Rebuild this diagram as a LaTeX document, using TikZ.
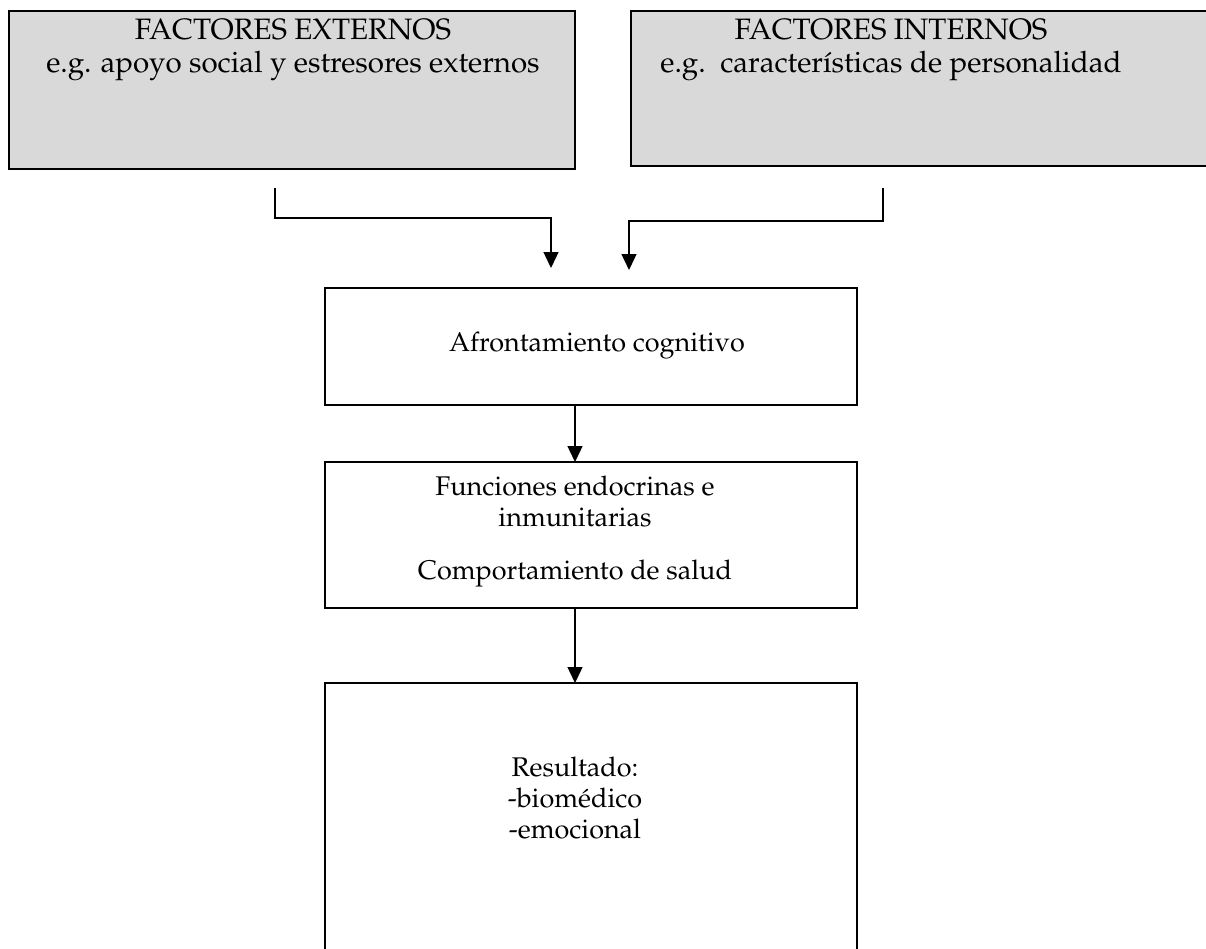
\documentclass[tikz,border=0pt]{standalone}
\usepackage[T1]{fontenc}
\usepackage{mathpazo}
\usetikzlibrary{arrows.meta,positioning}
\definecolor{factorgray}{HTML}{D9D9D9}
\tikzstyle{box}=[draw=black, line width=1.7pt, inner sep=0pt, outer sep=0pt]
\tikzstyle{factor}=[box, fill=factorgray]
\tikzstyle{boxtext}=[align=center, inner sep=0pt, font=\fontsize{27}{31}\selectfont]
\tikzstyle{factortext}=[boxtext, font=\fontsize{29.5}{33}\selectfont]
\tikzstyle{link}=[line width=1.3pt, -{Triangle[width=15pt,length=16pt]}]

\begin{document}
\begin{tikzpicture}[x=1pt, y=-1pt]
	\useasboundingbox (0,0) rectangle (1206,948);

	% Factor boxes
	\node[factor, minimum width=566pt, minimum height=158pt] (ext) at (292,90) {};
	\node[factor, minimum width=590pt, minimum height=155pt] (int) at (926,88.5) {};
	\node[factortext, anchor=north] (exttext) at (293,19) {FACTORES EXTERNOS\\e.g. apoyo social y estresores externos};
	\node[factortext, anchor=north] (inttext) at (891,19) {FACTORES INTERNOS\\e.g.\ \ caracter\'{\i}sticas de personalidad};

	% Chain of boxes
	\node[box, minimum width=532pt, minimum height=117pt] (afront) at (591,346.5) {};
	\node[box, minimum width=532pt, minimum height=146pt] (endo) at (591,535) {};
	\node[box, minimum width=532pt, minimum height=277pt] (result) at (591,821.5) {};
	\node[boxtext] (afronttext) at (597,346) {Afrontamiento cognitivo};
	\node[boxtext, anchor=north] (endotext) at (575,476) {Funciones endocrinas e\\inmunitarias\\[22pt]Comportamiento de salud};
	\node[boxtext, anchor=north] (resulttext) at (575,757) {Resultado:\\-biom\'edico\\-emocional};

	% Connectors
	\coordinate (axis) at (575,0);
	\coordinate (extstart) at (275,188);
	\coordinate (extend) at (551,268);
	\coordinate (intstart) at (883,188);
	\coordinate (intend) at (629,270);
	\draw[link] (extstart) -- ++(0,30) -| (extend);
	\draw[link] (intstart) -- ++(0,33) -| (intend);
	\draw[link] (afront.south -| axis) -- (endo.north -| axis);
	\draw[link] (endo.south -| axis) -- (result.north -| axis);

\end{tikzpicture}
\end{document}
